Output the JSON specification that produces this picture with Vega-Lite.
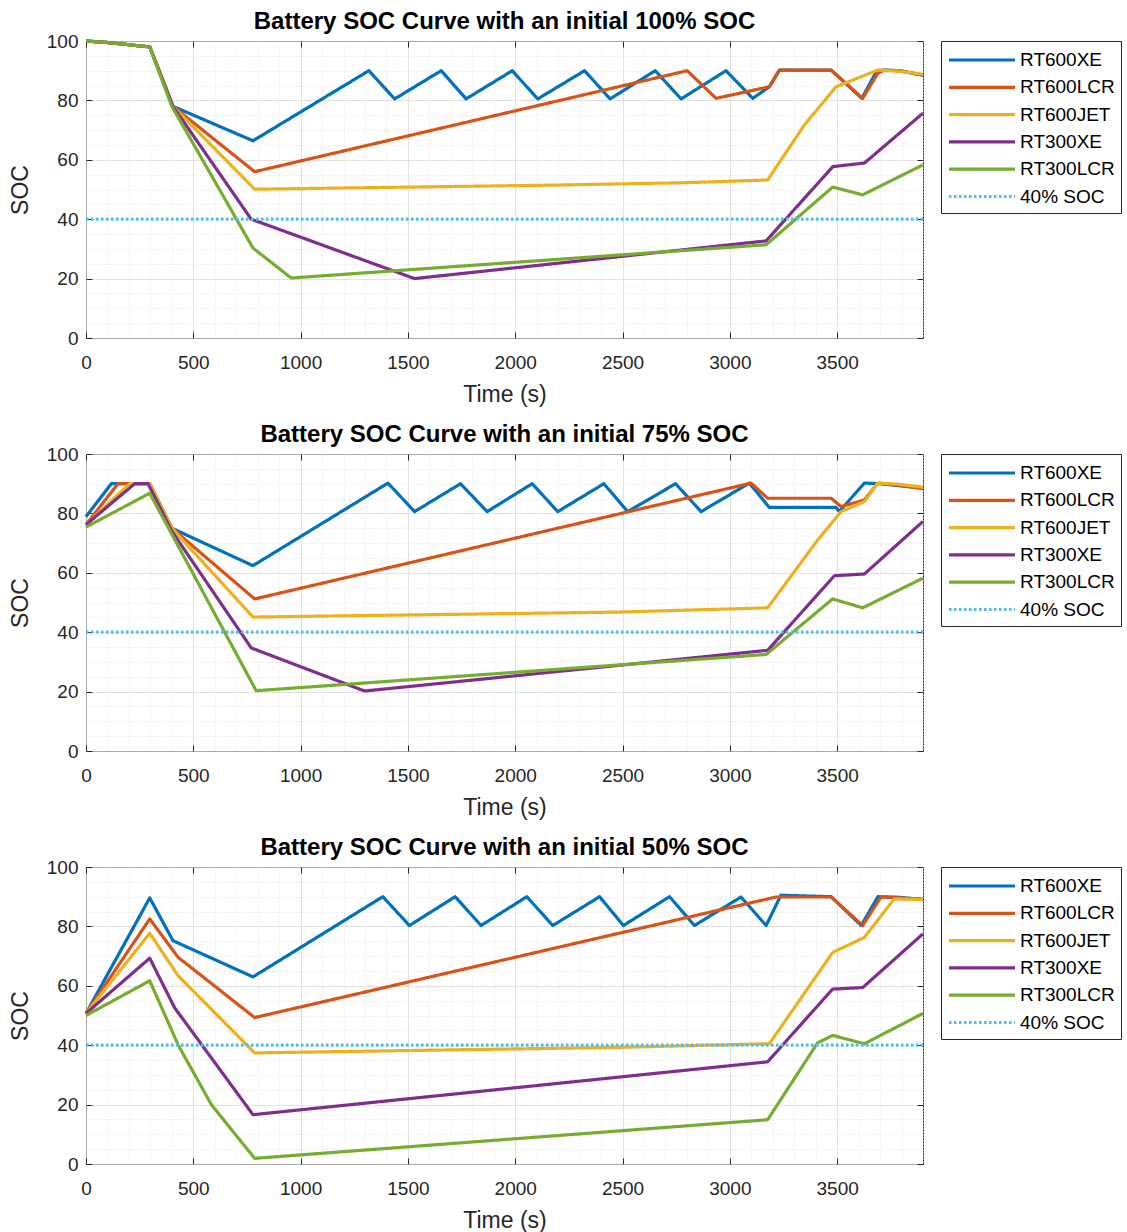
{
  "$schema": "https://vega.github.io/schema/vega-lite/v6.json",
  "background": "white",
  "padding": {"left": 8, "top": 9, "right": 0, "bottom": 0},
  "config": {
    "font": "Liberation Sans",
    "view": {"stroke": "#262626", "strokeWidth": 1},
    "title": {"font": "Liberation Sans", "fontSize": 24, "fontWeight": "bold", "color": "#000000", "anchor": "middle", "frame": "group", "offset": -2},
    "axis": {"labelFont": "Liberation Sans", "labelFontSize": 19, "labelColor": "#262626", "titleFont": "Liberation Sans", "titleFontSize": 23, "titleFontWeight": "normal", "titleColor": "#262626", "tickColor": "#262626", "domain": false},
    "legend": {"orient": "right", "offset": 16, "padding": 6, "strokeColor": "#262626", "fillColor": "white", "labelFont": "Liberation Sans", "labelFontSize": 19, "labelColor": "#000000", "symbolType": "M-3,0H3", "symbolSize": 484, "symbolOffset": 22, "rowPadding": 4.3, "labelOffset": 25, "title": null, "cornerRadius": 0}
  },
  "datasets": {
    "soc": [
      {"p":"100","s":"RT600XE","t":0,"v":100},{"p":"100","s":"RT600XE","t":100,"v":99.5},{"p":"100","s":"RT600XE","t":297,"v":98},{"p":"100","s":"RT600XE","t":405,"v":78},{"p":"100","s":"RT600XE","t":778,"v":66.4},{"p":"100","s":"RT600XE","t":1318,"v":90},{"p":"100","s":"RT600XE","t":1438,"v":80.5},{"p":"100","s":"RT600XE","t":1655,"v":90},{"p":"100","s":"RT600XE","t":1771,"v":80.5},{"p":"100","s":"RT600XE","t":1986,"v":90},{"p":"100","s":"RT600XE","t":2105,"v":80.5},{"p":"100","s":"RT600XE","t":2323,"v":90},{"p":"100","s":"RT600XE","t":2442,"v":80.5},{"p":"100","s":"RT600XE","t":2652,"v":90},{"p":"100","s":"RT600XE","t":2773,"v":80.5},{"p":"100","s":"RT600XE","t":2982,"v":90},{"p":"100","s":"RT600XE","t":3107,"v":80.7},{"p":"100","s":"RT600XE","t":3184,"v":84.6},{"p":"100","s":"RT600XE","t":3231,"v":90.2},{"p":"100","s":"RT600XE","t":3472,"v":90.2},{"p":"100","s":"RT600XE","t":3615,"v":80.7},{"p":"100","s":"RT600XE","t":3685,"v":90},{"p":"100","s":"RT600XE","t":3720,"v":90.2},{"p":"100","s":"RT600XE","t":3790,"v":90},{"p":"100","s":"RT600XE","t":3900,"v":88.5},
      {"p":"100","s":"RT600LCR","t":0,"v":100},{"p":"100","s":"RT600LCR","t":100,"v":99.5},{"p":"100","s":"RT600LCR","t":297,"v":98},{"p":"100","s":"RT600LCR","t":405,"v":78},{"p":"100","s":"RT600LCR","t":786,"v":56},{"p":"100","s":"RT600LCR","t":2801,"v":90},{"p":"100","s":"RT600LCR","t":2936,"v":80.7},{"p":"100","s":"RT600LCR","t":3184,"v":84.6},{"p":"100","s":"RT600LCR","t":3231,"v":90.2},{"p":"100","s":"RT600LCR","t":3472,"v":90.2},{"p":"100","s":"RT600LCR","t":3619,"v":80.7},{"p":"100","s":"RT600LCR","t":3689,"v":89.1},{"p":"100","s":"RT600LCR","t":3720,"v":90.2},{"p":"100","s":"RT600LCR","t":3790,"v":90},{"p":"100","s":"RT600LCR","t":3900,"v":88.5},
      {"p":"100","s":"RT600JET","t":0,"v":100},{"p":"100","s":"RT600JET","t":100,"v":99.5},{"p":"100","s":"RT600JET","t":297,"v":98},{"p":"100","s":"RT600JET","t":405,"v":78},{"p":"100","s":"RT600JET","t":786,"v":50.1},{"p":"100","s":"RT600JET","t":1500,"v":50.8},{"p":"100","s":"RT600JET","t":2200,"v":51.5},{"p":"100","s":"RT600JET","t":2800,"v":52.3},{"p":"100","s":"RT600JET","t":3176,"v":53.2},{"p":"100","s":"RT600JET","t":3347,"v":71.7},{"p":"100","s":"RT600JET","t":3495,"v":84.6},{"p":"100","s":"RT600JET","t":3689,"v":90.2},{"p":"100","s":"RT600JET","t":3790,"v":89.8},{"p":"100","s":"RT600JET","t":3900,"v":88.8},
      {"p":"100","s":"RT300XE","t":0,"v":100},{"p":"100","s":"RT300XE","t":100,"v":99.5},{"p":"100","s":"RT300XE","t":297,"v":98},{"p":"100","s":"RT300XE","t":405,"v":78},{"p":"100","s":"RT300XE","t":770,"v":40},{"p":"100","s":"RT300XE","t":1531,"v":20},{"p":"100","s":"RT300XE","t":3169,"v":32.7},{"p":"100","s":"RT300XE","t":3480,"v":57.7},{"p":"100","s":"RT300XE","t":3627,"v":58.9},{"p":"100","s":"RT300XE","t":3900,"v":75.7},
      {"p":"100","s":"RT300LCR","t":0,"v":100},{"p":"100","s":"RT300LCR","t":100,"v":99.5},{"p":"100","s":"RT300LCR","t":297,"v":98},{"p":"100","s":"RT300LCR","t":400,"v":78},{"p":"100","s":"RT300LCR","t":778,"v":30.3},{"p":"100","s":"RT300LCR","t":956,"v":20.2},{"p":"100","s":"RT300LCR","t":3169,"v":31.4},{"p":"100","s":"RT300LCR","t":3479,"v":50.8},{"p":"100","s":"RT300LCR","t":3619,"v":48.2},{"p":"100","s":"RT300LCR","t":3900,"v":58.3},
      {"p":"100","s":"40% SOC","t":0,"v":40},{"p":"100","s":"40% SOC","t":3900,"v":40},

      {"p":"75","s":"RT600XE","t":0,"v":78.9},{"p":"75","s":"RT600XE","t":118,"v":90},{"p":"75","s":"RT600XE","t":297,"v":90},{"p":"75","s":"RT600XE","t":400,"v":75},{"p":"75","s":"RT600XE","t":778,"v":62.4},{"p":"75","s":"RT600XE","t":1407,"v":90.2},{"p":"75","s":"RT600XE","t":1531,"v":80.6},{"p":"75","s":"RT600XE","t":1745,"v":90},{"p":"75","s":"RT600XE","t":1869,"v":80.6},{"p":"75","s":"RT600XE","t":2079,"v":90},{"p":"75","s":"RT600XE","t":2198,"v":80.6},{"p":"75","s":"RT600XE","t":2413,"v":90},{"p":"75","s":"RT600XE","t":2524,"v":80.6},{"p":"75","s":"RT600XE","t":2747,"v":90},{"p":"75","s":"RT600XE","t":2866,"v":80.6},{"p":"75","s":"RT600XE","t":3091,"v":90.2},{"p":"75","s":"RT600XE","t":3184,"v":82},{"p":"75","s":"RT600XE","t":3495,"v":82},{"p":"75","s":"RT600XE","t":3510,"v":80.6},{"p":"75","s":"RT600XE","t":3627,"v":90.2},{"p":"75","s":"RT600XE","t":3700,"v":90},{"p":"75","s":"RT600XE","t":3900,"v":88.5},
      {"p":"75","s":"RT600LCR","t":0,"v":76.2},{"p":"75","s":"RT600LCR","t":149,"v":90},{"p":"75","s":"RT600LCR","t":297,"v":90},{"p":"75","s":"RT600LCR","t":400,"v":75},{"p":"75","s":"RT600LCR","t":786,"v":51.2},{"p":"75","s":"RT600LCR","t":3099,"v":90.2},{"p":"75","s":"RT600LCR","t":3176,"v":85.1},{"p":"75","s":"RT600LCR","t":3472,"v":85.1},{"p":"75","s":"RT600LCR","t":3518,"v":82.3},{"p":"75","s":"RT600LCR","t":3627,"v":84.5},{"p":"75","s":"RT600LCR","t":3689,"v":90.2},{"p":"75","s":"RT600LCR","t":3790,"v":89.5},{"p":"75","s":"RT600LCR","t":3900,"v":88.3},
      {"p":"75","s":"RT600JET","t":0,"v":76.2},{"p":"75","s":"RT600JET","t":203,"v":90},{"p":"75","s":"RT600JET","t":297,"v":90},{"p":"75","s":"RT600JET","t":400,"v":75},{"p":"75","s":"RT600JET","t":778,"v":45.1},{"p":"75","s":"RT600JET","t":1500,"v":45.8},{"p":"75","s":"RT600JET","t":2500,"v":46.8},{"p":"75","s":"RT600JET","t":3176,"v":48.2},{"p":"75","s":"RT600JET","t":3409,"v":71},{"p":"75","s":"RT600JET","t":3518,"v":80.6},{"p":"75","s":"RT600JET","t":3627,"v":84},{"p":"75","s":"RT600JET","t":3689,"v":90.2},{"p":"75","s":"RT600JET","t":3790,"v":89.8},{"p":"75","s":"RT600JET","t":3900,"v":88.8},
      {"p":"75","s":"RT300XE","t":0,"v":76.2},{"p":"75","s":"RT300XE","t":227,"v":90},{"p":"75","s":"RT300XE","t":289,"v":90},{"p":"75","s":"RT300XE","t":400,"v":74},{"p":"75","s":"RT300XE","t":770,"v":34.7},{"p":"75","s":"RT300XE","t":1298,"v":20.2},{"p":"75","s":"RT300XE","t":3176,"v":33.9},{"p":"75","s":"RT300XE","t":3487,"v":59},{"p":"75","s":"RT300XE","t":3627,"v":59.6},{"p":"75","s":"RT300XE","t":3900,"v":77.3},
      {"p":"75","s":"RT300LCR","t":0,"v":75.4},{"p":"75","s":"RT300LCR","t":297,"v":86.8},{"p":"75","s":"RT300LCR","t":793,"v":20.3},{"p":"75","s":"RT300LCR","t":3169,"v":32.5},{"p":"75","s":"RT300LCR","t":3479,"v":51.2},{"p":"75","s":"RT300LCR","t":3619,"v":48.2},{"p":"75","s":"RT300LCR","t":3900,"v":58.2},
      {"p":"75","s":"40% SOC","t":0,"v":40},{"p":"75","s":"40% SOC","t":3900,"v":40},

      {"p":"50","s":"RT600XE","t":0,"v":50.7},{"p":"50","s":"RT600XE","t":297,"v":89.6},{"p":"50","s":"RT600XE","t":405,"v":75.2},{"p":"50","s":"RT600XE","t":778,"v":63},{"p":"50","s":"RT600XE","t":1383,"v":90},{"p":"50","s":"RT600XE","t":1507,"v":80.3},{"p":"50","s":"RT600XE","t":1720,"v":90},{"p":"50","s":"RT600XE","t":1841,"v":80.3},{"p":"50","s":"RT600XE","t":2054,"v":90},{"p":"50","s":"RT600XE","t":2175,"v":80.3},{"p":"50","s":"RT600XE","t":2393,"v":90},{"p":"50","s":"RT600XE","t":2504,"v":80.3},{"p":"50","s":"RT600XE","t":2719,"v":90},{"p":"50","s":"RT600XE","t":2835,"v":80.3},{"p":"50","s":"RT600XE","t":3052,"v":89.9},{"p":"50","s":"RT600XE","t":3169,"v":80.3},{"p":"50","s":"RT600XE","t":3238,"v":90.5},{"p":"50","s":"RT600XE","t":3472,"v":90},{"p":"50","s":"RT600XE","t":3612,"v":80.3},{"p":"50","s":"RT600XE","t":3690,"v":90},{"p":"50","s":"RT600XE","t":3790,"v":89.8},{"p":"50","s":"RT600XE","t":3900,"v":89},
      {"p":"50","s":"RT600LCR","t":0,"v":50.7},{"p":"50","s":"RT600LCR","t":297,"v":82.5},{"p":"50","s":"RT600LCR","t":429,"v":69.6},{"p":"50","s":"RT600LCR","t":786,"v":49.3},{"p":"50","s":"RT600LCR","t":2944,"v":85.4},{"p":"50","s":"RT600LCR","t":3215,"v":89.9},{"p":"50","s":"RT600LCR","t":3472,"v":89.9},{"p":"50","s":"RT600LCR","t":3619,"v":80.3},{"p":"50","s":"RT600LCR","t":3704,"v":89.9},{"p":"50","s":"RT600LCR","t":3900,"v":89.2},
      {"p":"50","s":"RT600JET","t":0,"v":50.7},{"p":"50","s":"RT600JET","t":297,"v":77.7},{"p":"50","s":"RT600JET","t":429,"v":63.4},{"p":"50","s":"RT600JET","t":786,"v":37.4},{"p":"50","s":"RT600JET","t":1500,"v":38.2},{"p":"50","s":"RT600JET","t":2500,"v":39.3},{"p":"50","s":"RT600JET","t":3184,"v":40.5},{"p":"50","s":"RT600JET","t":3479,"v":71.2},{"p":"50","s":"RT600JET","t":3627,"v":76.3},{"p":"50","s":"RT600JET","t":3766,"v":89.3},{"p":"50","s":"RT600JET","t":3900,"v":89},
      {"p":"50","s":"RT300XE","t":0,"v":50.7},{"p":"50","s":"RT300XE","t":297,"v":69.3},{"p":"50","s":"RT300XE","t":413,"v":52.6},{"p":"50","s":"RT300XE","t":778,"v":16.6},{"p":"50","s":"RT300XE","t":3176,"v":34.4},{"p":"50","s":"RT300XE","t":3479,"v":58.9},{"p":"50","s":"RT300XE","t":3619,"v":59.4},{"p":"50","s":"RT300XE","t":3900,"v":77.5},
      {"p":"50","s":"RT300LCR","t":0,"v":50},{"p":"50","s":"RT300LCR","t":297,"v":61.7},{"p":"50","s":"RT300LCR","t":430,"v":40},{"p":"50","s":"RT300LCR","t":584,"v":20},{"p":"50","s":"RT300LCR","t":786,"v":1.9},{"p":"50","s":"RT300LCR","t":3176,"v":14.9},{"p":"50","s":"RT300LCR","t":3409,"v":40.8},{"p":"50","s":"RT300LCR","t":3479,"v":43.3},{"p":"50","s":"RT300LCR","t":3627,"v":40.5},{"p":"50","s":"RT300LCR","t":3900,"v":50.7},
      {"p":"50","s":"40% SOC","t":0,"v":40},{"p":"50","s":"40% SOC","t":3900,"v":40}
    ]
  },
  "spacing": 15,
  "resolve": {"legend": {"color": "independent", "strokeDash": "independent", "strokeWidth": "independent"}},
  "vconcat": [
    {
      "title": "Battery SOC Curve with an initial 100% SOC",
      "width": 837, "height": 297,
      "data": {"name": "soc"},
      "transform": [{"filter": "datum.p === '100'"}],
      "resolve": {"axis": {"x": "independent", "y": "independent"}},
      "layer": [
        {
          "mark": {"type": "line", "strokeJoin": "round"},
          "encoding": {
            "x": {"field": "t", "type": "quantitative", "scale": {"domain": [0, 3900], "nice": false},
              "axis": {"orient": "bottom", "title": "Time (s)", "format": "d", "values": [0,100,200,300,400,500,600,700,800,900,1000,1100,1200,1300,1400,1500,1600,1700,1800,1900,2000,2100,2200,2300,2400,2500,2600,2700,2800,2900,3000,3100,3200,3300,3400,3500,3600,3700,3800,3900],
                "labelExpr": "datum.value % 500 === 0 ? datum.label : ''", "labelOverlap": false, "labelFlush": false,
                "tickSize": -6, "labelPadding": 21, "titlePadding": 11,
                "tickOpacity": {"condition": {"test": "datum.value % 500 === 0", "value": 1}, "value": 0},
                "grid": true,
                "gridColor": {"condition": {"test": "datum.value % 500 === 0", "value": "#d9d9d9"}, "value": "#e2e2e2"},
                "gridDash": {"condition": {"test": "datum.value % 500 === 0", "value": [1, 0]}, "value": [1, 2]}}},
            "y": {"field": "v", "type": "quantitative", "scale": {"domain": [0, 100], "nice": false},
              "axis": {"orient": "left", "title": "SOC", "values": [0,5,10,15,20,25,30,35,40,45,50,55,60,65,70,75,80,85,90,95,100],
                "labelExpr": "datum.value % 20 === 0 ? datum.label : ''", "labelOverlap": false, "labelFlush": false,
                "tickSize": -6, "labelPadding": 14, "titlePadding": 14,
                "tickOpacity": {"condition": {"test": "datum.value % 20 === 0", "value": 1}, "value": 0},
                "grid": true,
                "gridColor": {"condition": {"test": "datum.value % 20 === 0", "value": "#d9d9d9"}, "value": "#e2e2e2"},
                "gridDash": {"condition": {"test": "datum.value % 20 === 0", "value": [1, 0]}, "value": [1, 2]}}},
            "color": {"field": "s", "type": "nominal", "scale": {"domain": ["RT600XE", "RT600LCR", "RT600JET", "RT300XE", "RT300LCR", "40% SOC"], "range": ["#0072BD", "#D95319", "#EDB120", "#7E2F8E", "#77AC30", "#4DBEEE"]}, "legend": {"title": null}},
            "strokeDash": {"field": "s", "type": "nominal", "scale": {"domain": ["RT600XE", "RT600LCR", "RT600JET", "RT300XE", "RT300LCR", "40% SOC"], "range": [[1, 0], [1, 0], [1, 0], [1, 0], [1, 0], [2.5, 2.5]]}, "legend": {"title": null}},
            "strokeWidth": {"field": "s", "type": "nominal", "scale": {"domain": ["RT600XE", "RT600LCR", "RT600JET", "RT300XE", "RT300LCR", "40% SOC"], "range": [3.2, 3.2, 3.2, 3.2, 3.2, 2.5]}, "legend": {"title": null}}
          }
        },
        {
          "mark": {"type": "line", "opacity": 0},
          "encoding": {
            "x": {"field": "t", "type": "quantitative", "axis": {"orient": "top", "title": null, "labels": false, "grid": false, "values": [0,500,1000,1500,2000,2500,3000,3500], "tickSize": -6}},
            "y": {"field": "v", "type": "quantitative", "axis": {"orient": "right", "title": null, "labels": false, "grid": false, "values": [0,20,40,60,80,100], "tickSize": -6}}
          }
        }
      ]
    },
    {
      "title": "Battery SOC Curve with an initial 75% SOC",
      "width": 837, "height": 297,
      "data": {"name": "soc"},
      "transform": [{"filter": "datum.p === '75'"}],
      "resolve": {"axis": {"x": "independent", "y": "independent"}},
      "layer": [
        {
          "mark": {"type": "line", "strokeJoin": "round"},
          "encoding": {
            "x": {"field": "t", "type": "quantitative", "scale": {"domain": [0, 3900], "nice": false},
              "axis": {"orient": "bottom", "title": "Time (s)", "format": "d", "values": [0,100,200,300,400,500,600,700,800,900,1000,1100,1200,1300,1400,1500,1600,1700,1800,1900,2000,2100,2200,2300,2400,2500,2600,2700,2800,2900,3000,3100,3200,3300,3400,3500,3600,3700,3800,3900],
                "labelExpr": "datum.value % 500 === 0 ? datum.label : ''", "labelOverlap": false, "labelFlush": false,
                "tickSize": -6, "labelPadding": 21, "titlePadding": 11,
                "tickOpacity": {"condition": {"test": "datum.value % 500 === 0", "value": 1}, "value": 0},
                "grid": true,
                "gridColor": {"condition": {"test": "datum.value % 500 === 0", "value": "#d9d9d9"}, "value": "#e2e2e2"},
                "gridDash": {"condition": {"test": "datum.value % 500 === 0", "value": [1, 0]}, "value": [1, 2]}}},
            "y": {"field": "v", "type": "quantitative", "scale": {"domain": [0, 100], "nice": false},
              "axis": {"orient": "left", "title": "SOC", "values": [0,5,10,15,20,25,30,35,40,45,50,55,60,65,70,75,80,85,90,95,100],
                "labelExpr": "datum.value % 20 === 0 ? datum.label : ''", "labelOverlap": false, "labelFlush": false,
                "tickSize": -6, "labelPadding": 14, "titlePadding": 14,
                "tickOpacity": {"condition": {"test": "datum.value % 20 === 0", "value": 1}, "value": 0},
                "grid": true,
                "gridColor": {"condition": {"test": "datum.value % 20 === 0", "value": "#d9d9d9"}, "value": "#e2e2e2"},
                "gridDash": {"condition": {"test": "datum.value % 20 === 0", "value": [1, 0]}, "value": [1, 2]}}},
            "color": {"field": "s", "type": "nominal", "scale": {"domain": ["RT600XE", "RT600LCR", "RT600JET", "RT300XE", "RT300LCR", "40% SOC"], "range": ["#0072BD", "#D95319", "#EDB120", "#7E2F8E", "#77AC30", "#4DBEEE"]}, "legend": {"title": null}},
            "strokeDash": {"field": "s", "type": "nominal", "scale": {"domain": ["RT600XE", "RT600LCR", "RT600JET", "RT300XE", "RT300LCR", "40% SOC"], "range": [[1, 0], [1, 0], [1, 0], [1, 0], [1, 0], [2.5, 2.5]]}, "legend": {"title": null}},
            "strokeWidth": {"field": "s", "type": "nominal", "scale": {"domain": ["RT600XE", "RT600LCR", "RT600JET", "RT300XE", "RT300LCR", "40% SOC"], "range": [3.2, 3.2, 3.2, 3.2, 3.2, 2.5]}, "legend": {"title": null}}
          }
        },
        {
          "mark": {"type": "line", "opacity": 0},
          "encoding": {
            "x": {"field": "t", "type": "quantitative", "axis": {"orient": "top", "title": null, "labels": false, "grid": false, "values": [0,500,1000,1500,2000,2500,3000,3500], "tickSize": -6}},
            "y": {"field": "v", "type": "quantitative", "axis": {"orient": "right", "title": null, "labels": false, "grid": false, "values": [0,20,40,60,80,100], "tickSize": -6}}
          }
        }
      ]
    },
    {
      "title": "Battery SOC Curve with an initial 50% SOC",
      "width": 837, "height": 297,
      "data": {"name": "soc"},
      "transform": [{"filter": "datum.p === '50'"}],
      "resolve": {"axis": {"x": "independent", "y": "independent"}},
      "layer": [
        {
          "mark": {"type": "line", "strokeJoin": "round"},
          "encoding": {
            "x": {"field": "t", "type": "quantitative", "scale": {"domain": [0, 3900], "nice": false},
              "axis": {"orient": "bottom", "title": "Time (s)", "format": "d", "values": [0,100,200,300,400,500,600,700,800,900,1000,1100,1200,1300,1400,1500,1600,1700,1800,1900,2000,2100,2200,2300,2400,2500,2600,2700,2800,2900,3000,3100,3200,3300,3400,3500,3600,3700,3800,3900],
                "labelExpr": "datum.value % 500 === 0 ? datum.label : ''", "labelOverlap": false, "labelFlush": false,
                "tickSize": -6, "labelPadding": 21, "titlePadding": 11,
                "tickOpacity": {"condition": {"test": "datum.value % 500 === 0", "value": 1}, "value": 0},
                "grid": true,
                "gridColor": {"condition": {"test": "datum.value % 500 === 0", "value": "#d9d9d9"}, "value": "#e2e2e2"},
                "gridDash": {"condition": {"test": "datum.value % 500 === 0", "value": [1, 0]}, "value": [1, 2]}}},
            "y": {"field": "v", "type": "quantitative", "scale": {"domain": [0, 100], "nice": false},
              "axis": {"orient": "left", "title": "SOC", "values": [0,5,10,15,20,25,30,35,40,45,50,55,60,65,70,75,80,85,90,95,100],
                "labelExpr": "datum.value % 20 === 0 ? datum.label : ''", "labelOverlap": false, "labelFlush": false,
                "tickSize": -6, "labelPadding": 14, "titlePadding": 14,
                "tickOpacity": {"condition": {"test": "datum.value % 20 === 0", "value": 1}, "value": 0},
                "grid": true,
                "gridColor": {"condition": {"test": "datum.value % 20 === 0", "value": "#d9d9d9"}, "value": "#e2e2e2"},
                "gridDash": {"condition": {"test": "datum.value % 20 === 0", "value": [1, 0]}, "value": [1, 2]}}},
            "color": {"field": "s", "type": "nominal", "scale": {"domain": ["RT600XE", "RT600LCR", "RT600JET", "RT300XE", "RT300LCR", "40% SOC"], "range": ["#0072BD", "#D95319", "#EDB120", "#7E2F8E", "#77AC30", "#4DBEEE"]}, "legend": {"title": null}},
            "strokeDash": {"field": "s", "type": "nominal", "scale": {"domain": ["RT600XE", "RT600LCR", "RT600JET", "RT300XE", "RT300LCR", "40% SOC"], "range": [[1, 0], [1, 0], [1, 0], [1, 0], [1, 0], [2.5, 2.5]]}, "legend": {"title": null}},
            "strokeWidth": {"field": "s", "type": "nominal", "scale": {"domain": ["RT600XE", "RT600LCR", "RT600JET", "RT300XE", "RT300LCR", "40% SOC"], "range": [3.2, 3.2, 3.2, 3.2, 3.2, 2.5]}, "legend": {"title": null}}
          }
        },
        {
          "mark": {"type": "line", "opacity": 0},
          "encoding": {
            "x": {"field": "t", "type": "quantitative", "axis": {"orient": "top", "title": null, "labels": false, "grid": false, "values": [0,500,1000,1500,2000,2500,3000,3500], "tickSize": -6}},
            "y": {"field": "v", "type": "quantitative", "axis": {"orient": "right", "title": null, "labels": false, "grid": false, "values": [0,20,40,60,80,100], "tickSize": -6}}
          }
        }
      ]
    }
  ]
}
